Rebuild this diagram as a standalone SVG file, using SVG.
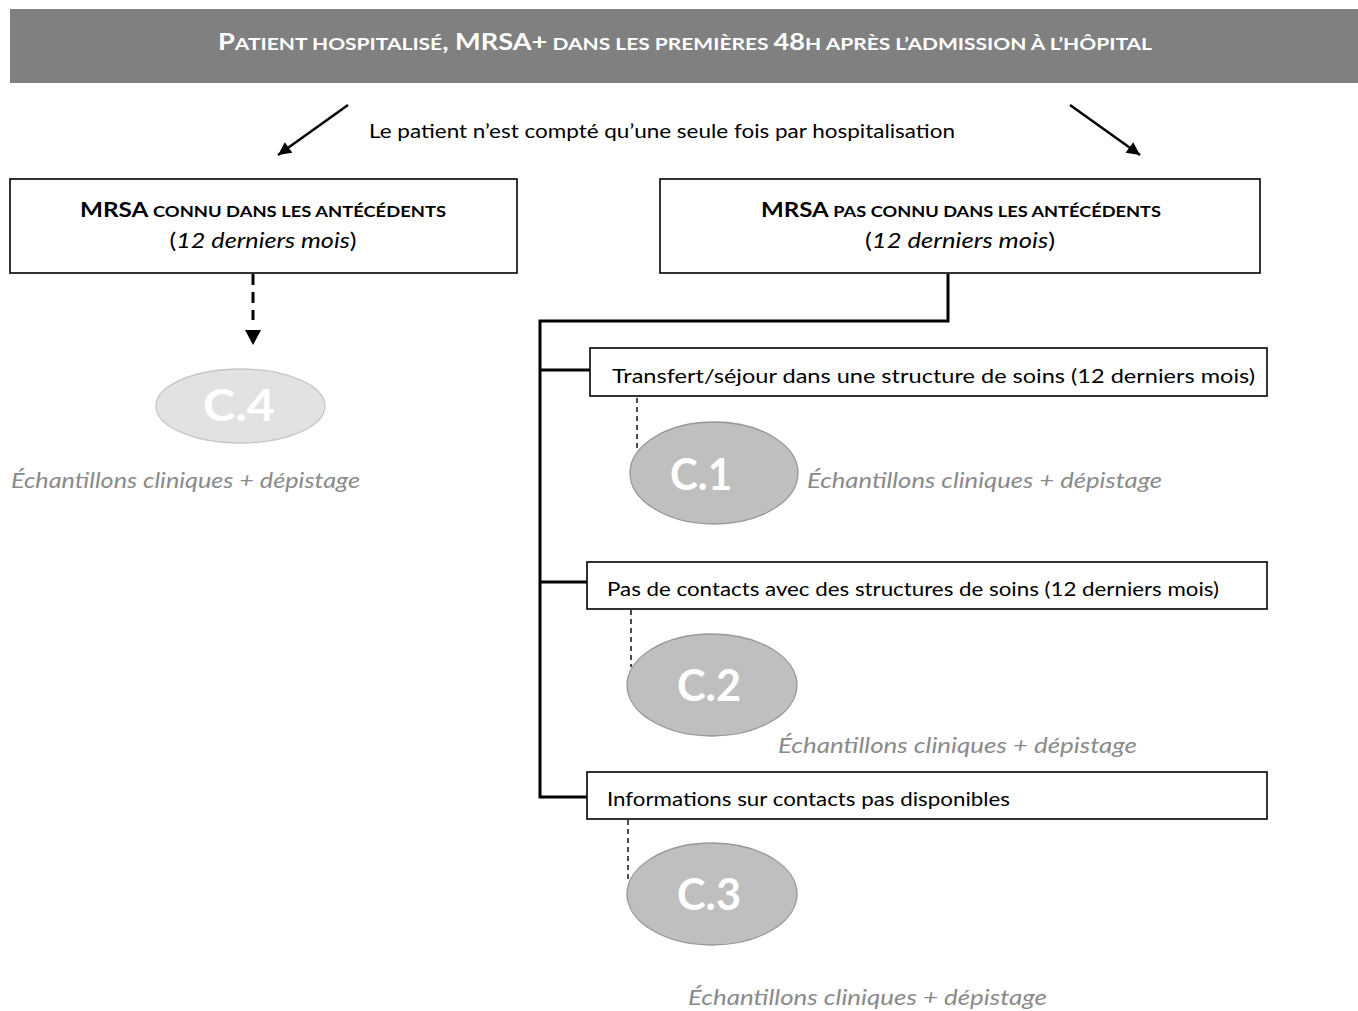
<svg xmlns="http://www.w3.org/2000/svg" width="1358" height="1011" viewBox="0 0 1358 1011">
<defs>
<style>
.box{fill:#fff;stroke:#000;stroke-width:1.6}
.t{font-family:Lato,"Liberation Sans",sans-serif;fill:#000}
.b{font-weight:bold}
.it{font-style:italic}
.gray{font-family:Lato,"Liberation Sans",sans-serif;font-style:italic;fill:#8a8a8a;font-size:22px}
.cl{font-family:Lato,"Liberation Sans",sans-serif;font-weight:bold;fill:#fff;font-size:44px;text-anchor:middle}
.ell{fill:#bfbfbf;stroke:#979797;stroke-width:1.3}
.tree{fill:none;stroke:#000;stroke-width:3}
.dash{fill:none;stroke:#000;stroke-width:1.4;stroke-dasharray:5,4}
.arr{fill:none;stroke:#000;stroke-width:2.5}
</style>
<marker id="ah" viewBox="0 0 10 10" refX="10" refY="5" markerUnits="userSpaceOnUse" markerWidth="15" markerHeight="13" orient="auto">
<path d="M0,0 L10,5 L0,10 z" fill="#000"/>
</marker>
</defs>
<rect width="1358" height="1011" fill="#fff"/>

<g id="header">
<rect x="10" y="9" width="1348" height="74" fill="#808080"/>
<text class="t b" x="685" y="50" style="fill:#fff" text-anchor="middle" textLength="934" lengthAdjust="spacingAndGlyphs"><tspan font-size="22">P</tspan><tspan font-size="17">ATIENT HOSPITALISÉ</tspan><tspan font-size="22">, MRSA+</tspan><tspan font-size="17"> DANS LES PREMIÈRES </tspan><tspan font-size="22">48</tspan><tspan font-size="17">H APRÈS L’ADMISSION À L’HÔPITAL</tspan></text>
</g>

<g id="caption">
<text class="t" x="369" y="138" font-size="19.5" textLength="586" lengthAdjust="spacingAndGlyphs">Le patient n’est compté qu’une seule fois par hospitalisation</text>
</g>

<g id="connectors">
<line class="arr" x1="348" y1="105" x2="278" y2="155" marker-end="url(#ah)"/>
<line class="arr" x1="1070" y1="105" x2="1140" y2="155" marker-end="url(#ah)"/>
<line x1="253" y1="274" x2="253" y2="320" stroke="#000" stroke-width="3" stroke-dasharray="11,7"/>
<polygon points="245,330 261,330 253,345" fill="#000"/>
<path class="tree" d="M948,274 V321 H540 V797 H587"/>
<line class="tree" x1="540" y1="370" x2="590" y2="370"/>
<line class="tree" x1="540" y1="582" x2="587" y2="582"/>
<line class="dash" x1="637" y1="398" x2="637" y2="452"/>
<line class="dash" x1="631" y1="610" x2="631" y2="667"/>
<line class="dash" x1="628" y1="820" x2="628" y2="882"/>
</g>

<g id="known">
<rect class="box" x="10" y="179" width="507" height="94"/>
<text class="t b" x="263" y="217" text-anchor="middle" textLength="366" lengthAdjust="spacingAndGlyphs"><tspan font-size="20.5">MRSA</tspan><tspan font-size="15.5"> CONNU DANS LES ANTÉCÉDENTS</tspan></text>
<text class="t" x="263" y="248" font-size="21" text-anchor="middle" textLength="187" lengthAdjust="spacingAndGlyphs">(<tspan class="it">12 derniers mois</tspan>)</text>
</g>

<g id="unknown">
<rect class="box" x="660" y="179" width="600" height="94"/>
<text class="t b" x="961" y="217" text-anchor="middle" textLength="400" lengthAdjust="spacingAndGlyphs"><tspan font-size="20.5">MRSA</tspan><tspan font-size="15.5"> PAS CONNU DANS LES ANTÉCÉDENTS</tspan></text>
<text class="t" x="960" y="248" font-size="21" text-anchor="middle" textLength="190" lengthAdjust="spacingAndGlyphs">(<tspan class="it">12 derniers mois</tspan>)</text>
</g>

<g id="c4">
<ellipse cx="240.5" cy="406" rx="84.5" ry="37" fill="#e2e2e2" stroke="#c6c6c6" stroke-width="1.3"/>
<text class="cl" x="239" y="421" font-size="45" textLength="72" lengthAdjust="spacingAndGlyphs">C.4</text>
<text class="gray" x="11" y="488" textLength="349" lengthAdjust="spacingAndGlyphs">Échantillons cliniques + dépistage</text>
</g>

<g id="transfer">
<rect class="box" x="590" y="348" width="677" height="48"/>
<text class="t" x="612" y="383" font-size="19.5" textLength="643" lengthAdjust="spacingAndGlyphs">Transfert/séjour dans une structure de soins (12 derniers mois)</text>
</g>

<g id="c1">
<ellipse class="ell" cx="714" cy="473" rx="84" ry="51"/>
<text class="cl" x="701" y="490" textLength="62" lengthAdjust="spacingAndGlyphs">C.1</text>
<text class="gray" x="807" y="488" textLength="355" lengthAdjust="spacingAndGlyphs">Échantillons cliniques + dépistage</text>
</g>

<g id="nocontact">
<rect class="box" x="587" y="562" width="680" height="47"/>
<text class="t" x="607" y="596" font-size="19.5" textLength="612" lengthAdjust="spacingAndGlyphs">Pas de contacts avec des structures de soins (12 derniers mois)</text>
</g>

<g id="c2">
<ellipse class="ell" cx="712" cy="685" rx="85" ry="51"/>
<text class="cl" x="709" y="701" textLength="64" lengthAdjust="spacingAndGlyphs">C.2</text>
<text class="gray" x="778" y="753" textLength="359" lengthAdjust="spacingAndGlyphs">Échantillons cliniques + dépistage</text>
</g>

<g id="noinfo">
<rect class="box" x="587" y="772" width="680" height="47"/>
<text class="t" x="607" y="806" font-size="19.5" textLength="403" lengthAdjust="spacingAndGlyphs">Informations sur contacts pas disponibles</text>
</g>

<g id="c3">
<ellipse class="ell" cx="712" cy="894" rx="85" ry="51"/>
<text class="cl" x="709" y="910" textLength="64" lengthAdjust="spacingAndGlyphs">C.3</text>
<text class="gray" x="688" y="1005" textLength="359" lengthAdjust="spacingAndGlyphs">Échantillons cliniques + dépistage</text>
</g>
</svg>
